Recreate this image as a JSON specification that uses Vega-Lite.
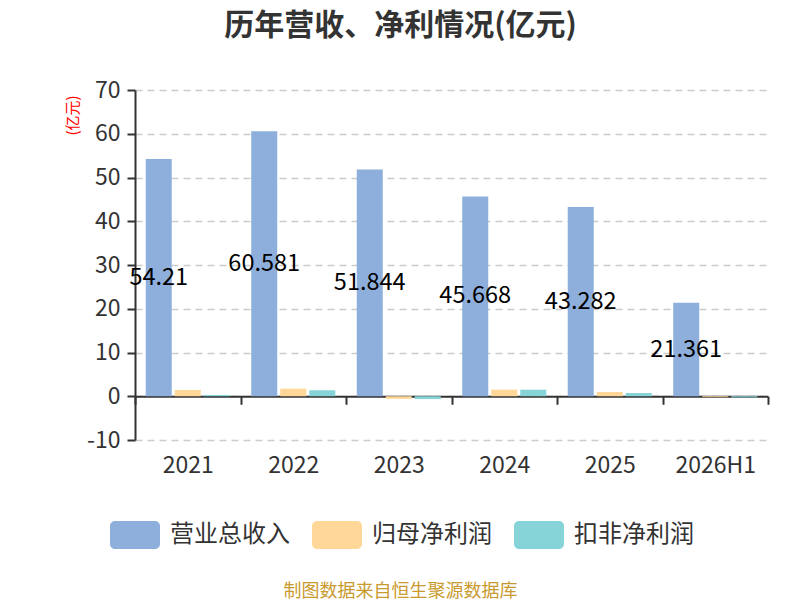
{
  "$schema": "https://vega.github.io/schema/vega-lite/v6.json",
  "autosize": "none",
  "width": 633,
  "height": 350,
  "padding": {"left": 135, "top": 90, "right": 32, "bottom": 160},
  "background": "white",
  "config": {
    "font": "Noto Sans CJK SC",
    "view": {"stroke": null}
  },
  "title": {
    "text": "历年营收、净利情况(亿元)",
    "fontSize": 30,
    "fontWeight": "bold",
    "color": "#333333",
    "anchor": "middle",
    "dx": -51,
    "offset": 38
  },
  "data": {
    "values": [
      {"year": "2021", "series": "营业总收入", "value": 54.21},
      {"year": "2021", "series": "归母净利润", "value": 1.44},
      {"year": "2021", "series": "扣非净利润", "value": 0.3},
      {"year": "2022", "series": "营业总收入", "value": 60.581},
      {"year": "2022", "series": "归母净利润", "value": 1.74},
      {"year": "2022", "series": "扣非净利润", "value": 1.37},
      {"year": "2023", "series": "营业总收入", "value": 51.844},
      {"year": "2023", "series": "归母净利润", "value": -0.6},
      {"year": "2023", "series": "扣非净利润", "value": -0.65},
      {"year": "2024", "series": "营业总收入", "value": 45.668},
      {"year": "2024", "series": "归母净利润", "value": 1.5},
      {"year": "2024", "series": "扣非净利润", "value": 1.5},
      {"year": "2025", "series": "营业总收入", "value": 43.282},
      {"year": "2025", "series": "归母净利润", "value": 0.98},
      {"year": "2025", "series": "扣非净利润", "value": 0.75},
      {"year": "2026H1", "series": "营业总收入", "value": 21.361},
      {"year": "2026H1", "series": "归母净利润", "value": -0.2},
      {"year": "2026H1", "series": "扣非净利润", "value": -0.25}
    ]
  },
  "layer": [
    {
      "mark": {"type": "bar"},
      "encoding": {
        "x": {
          "field": "year",
          "type": "nominal",
          "sort": null,
          "scale": {"paddingInner": 0, "paddingOuter": 0},
          "axis": {
            "offset": -43.75,
            "labelAngle": 0,
            "labelFontSize": 23,
            "labelColor": "#333333",
            "labelPadding": 50,
            "domainColor": "#333333",
            "domainWidth": 2,
            "ticks": true,
            "tickBand": "extent",
            "tickSize": 8,
            "tickWidth": 2,
            "tickColor": "#333333",
            "title": "制图数据来自恒生聚源数据库",
            "titleFontSize": 18,
            "titleFontWeight": "normal",
            "titleColor": "#c99a2e",
            "titlePadding": 105,
            "titleX": 265
          }
        },
        "xOffset": {
          "field": "series",
          "type": "nominal",
          "scale": {
            "domain": ["营业总收入", "归母净利润", "扣非净利润"],
            "paddingInner": 0.103,
            "paddingOuter": 0.37
          }
        },
        "y": {
          "field": "value",
          "type": "quantitative",
          "scale": {"domain": [-10, 70], "nice": false},
          "axis": {
            "values": [-10, 0, 10, 20, 30, 40, 50, 60, 70],
            "labelExpr": "'' + datum.value",
            "labelFontSize": 23,
            "labelColor": "#333333",
            "labelPadding": 7,
            "domainColor": "#333333",
            "domainWidth": 2,
            "tickColor": "#333333",
            "tickWidth": 2,
            "tickSize": 8,
            "grid": true,
            "gridColor": "#cccccc",
            "gridDash": [7, 5],
            "gridWidth": 1.5,
            "title": "(亿元)",
            "titleColor": "#ff0000",
            "titleFontSize": 15,
            "titleFontWeight": "normal",
            "titleAngle": -90,
            "titleAlign": "center",
            "titleBaseline": "middle",
            "titleX": -63,
            "titleY": 25
          }
        },
        "color": {
          "field": "series",
          "type": "nominal",
          "scale": {
            "domain": ["营业总收入", "归母净利润", "扣非净利润"],
            "range": ["#8eaedb", "#ffd899", "#86d4d8"]
          },
          "legend": {
            "orient": "none",
            "direction": "horizontal",
            "legendX": -25,
            "legendY": 420,
            "columns": 3,
            "title": null,
            "symbolType": "M-0.8,-0.56H0.8A0.2,0.2,0,0,1,1,-0.36V0.36A0.2,0.2,0,0,1,0.8,0.56H-0.8A0.2,0.2,0,0,1,-1,0.36V-0.36A0.2,0.2,0,0,1,-0.8,-0.56Z",
            "symbolSize": 2500,
            "symbolStrokeWidth": 0,
            "symbolOpacity": 1,
            "labelFontSize": 24,
            "labelColor": "#333333",
            "labelOffset": 10,
            "columnPadding": 22
          }
        }
      }
    },
    {
      "transform": [{"filter": "datum.series === '营业总收入'"}],
      "mark": {"type": "text", "fontSize": 23.5, "color": "#000000", "baseline": "middle", "align": "center"},
      "encoding": {
        "x": {"field": "year", "type": "nominal", "sort": null},
        "xOffset": {"field": "series", "type": "nominal"},
        "y": {
          "field": "value",
          "type": "quantitative",
          "scale": {"domain": [-20, 140], "nice": false},
          "axis": null
        },
        "text": {"field": "value", "type": "quantitative"}
      }
    }
  ],
  "resolve": {"scale": {"y": "independent"}}
}
